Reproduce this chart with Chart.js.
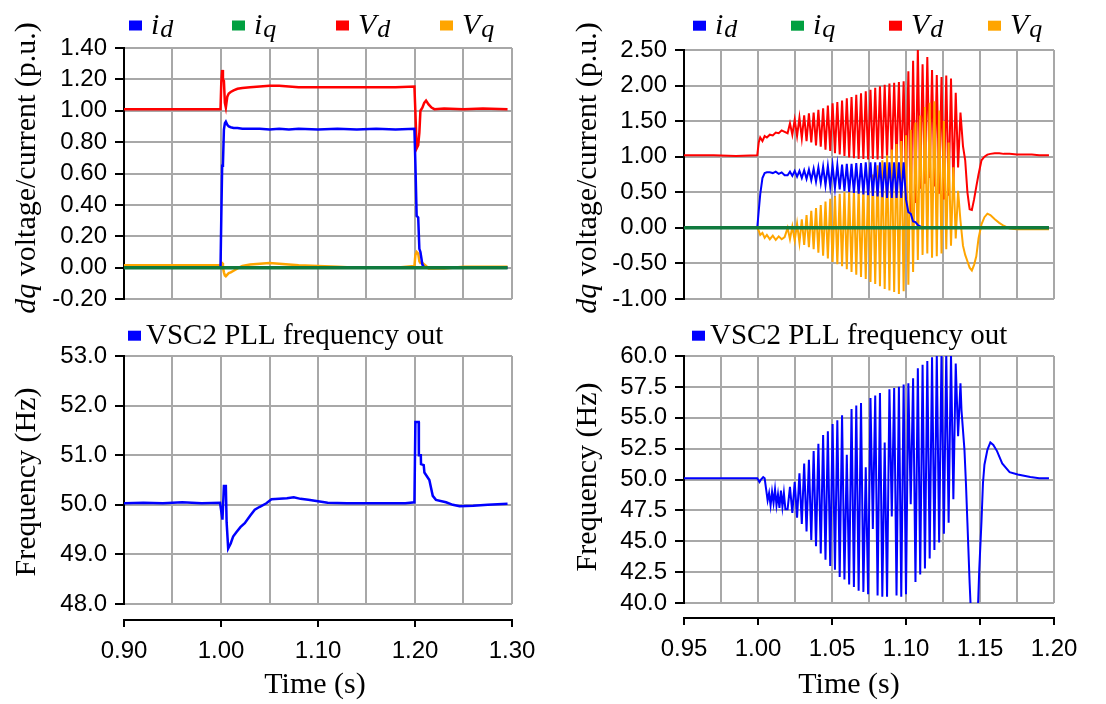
<!DOCTYPE html>
<html>
<head>
<meta charset="utf-8">
<script src="https://cdn.jsdelivr.net/npm/chart.js@4.4.1/dist/chart.umd.min.js"></script>
<style>
  html, body { margin: 0; padding: 0; background: #fff; }
  #wrap { position: relative; width: 1106px; height: 704px; overflow: hidden; background: #fff; }
  canvas { position: absolute; }
</style>
</head>
<body>
<div id="wrap">
  <canvas id="tl" width="550" height="330" style="left:0;top:0"></canvas>
  <canvas id="tr" width="546" height="330" style="left:560px;top:0"></canvas>
  <canvas id="bl" width="550" height="394" style="left:0;top:310px"></canvas>
  <canvas id="br" width="546" height="394" style="left:560px;top:310px"></canvas>
</div>
<script>
// ---- left column: 0.90 - 1.30 s ----
const tlTime = [0.900, 0.930, 0.960, 0.9995, 1.0003, 1.0012, 1.0020, 1.0030, 1.0040, 1.0050,
  1.0065, 1.0080, 1.0100, 1.0130, 1.0170, 1.0220, 1.0300, 1.0400, 1.0500, 1.0600,
  1.0700, 1.0800, 1.1000, 1.1200, 1.1400, 1.1600, 1.1800, 1.1994, 1.2004, 1.2017,
  1.2033, 1.2045, 1.2056, 1.2076, 1.2095, 1.2114, 1.2140, 1.2170, 1.2200, 1.2300,
  1.2500, 1.2700, 1.2954];
const tlId = [0, 0, 0, 0, 0.32, 0.65, 0.66, 0.88, 0.92, 0.93,
  0.91, 0.90, 0.895, 0.89, 0.89, 0.885, 0.885, 0.885, 0.88, 0.885,
  0.88, 0.885, 0.88, 0.885, 0.88, 0.885, 0.88, 0.885, 0.66, 0.33,
  0.32, 0.12, 0.10, 0.02, 0, 0, 0, 0, 0, 0,
  0, 0, 0];
const tlVd = [1.01, 1.01, 1.01, 1.01, 1.18, 1.26, 1.20, 1.19, 1.05, 1.02,
  1.09, 1.11, 1.12, 1.13, 1.14, 1.145, 1.15, 1.155, 1.16, 1.16,
  1.155, 1.15, 1.15, 1.15, 1.15, 1.15, 1.15, 1.155, 0.99, 0.76,
  0.78, 0.86, 1.00, 1.02, 1.05, 1.065, 1.04, 1.02, 1.01, 1.015,
  1.01, 1.015, 1.01];
const tlVq = [0.015, 0.015, 0.015, 0.015, 0.03, 0.03, 0.0, -0.03, -0.05, -0.055,
  -0.045, -0.035, -0.03, -0.02, -0.005, 0.01, 0.02, 0.025, 0.03, 0.025,
  0.02, 0.015, 0.01, 0.005, 0.0, 0.0, 0.0, 0.01, 0.08, 0.10,
  0.09, 0.04, 0.03, 0.03, 0.02, 0.01, -0.005, -0.005, -0.005, -0.005,
  0.005, 0.005, 0.005];
const tlIqTime = [0.900, 1.2954];
const tlIq = [0, 0];

const blTime = [0.900, 0.920, 0.940, 0.960, 0.980, 0.9990, 1.0015, 1.0030, 1.0050, 1.0058,
  1.0074, 1.0100, 1.0125, 1.0160, 1.0200, 1.0245, 1.0300, 1.0348, 1.0400, 1.0468,
  1.0520, 1.0600, 1.0680, 1.0750, 1.0820, 1.0900, 1.1000, 1.1100, 1.1300, 1.1500,
  1.1700, 1.1900, 1.1994, 1.2004, 1.2038, 1.2040, 1.2060, 1.2062, 1.2090, 1.2097,
  1.2148, 1.2183, 1.2216, 1.2320, 1.2390, 1.2460, 1.2600, 1.2750, 1.2954];
const blFreq = [50.03, 50.04, 50.03, 50.05, 50.03, 50.04, 49.70, 50.38, 50.38, 49.65,
  49.12, 49.22, 49.36, 49.45, 49.55, 49.63, 49.78, 49.90, 49.96, 50.03,
  50.11, 50.12, 50.13, 50.15, 50.12, 50.10, 50.07, 50.04, 50.03, 50.03,
  50.03, 50.03, 50.05, 51.67, 51.67, 51.00, 51.00, 50.82, 50.80, 50.65,
  50.50, 50.18, 50.10, 50.05, 50.00, 49.97, 49.98, 50.00, 50.02];

// ---- right column: 0.95 - 1.20 s ----
const oscTime = [1.0200, 1.0216, 1.0232, 1.0248, 1.0264, 1.0280, 1.0296, 1.0312, 1.0328, 1.0344,
  1.0360, 1.0376, 1.0392, 1.0408, 1.0424, 1.0440, 1.0456, 1.0472, 1.0488, 1.0504,
  1.0520, 1.0536, 1.0552, 1.0568, 1.0584, 1.0600, 1.0616, 1.0632, 1.0648, 1.0664,
  1.0680, 1.0696, 1.0712, 1.0728, 1.0744, 1.0760, 1.0776, 1.0792, 1.0808, 1.0824,
  1.0840, 1.0856, 1.0872, 1.0888, 1.0904, 1.0920, 1.0936, 1.0952, 1.0968, 1.0984,
  1.1000, 1.1016, 1.1032, 1.1048, 1.1064, 1.1080, 1.1096, 1.1112, 1.1128, 1.1144,
  1.1160, 1.1176, 1.1192, 1.1208, 1.1224, 1.1240, 1.1256, 1.1272, 1.1288, 1.1304,
  1.1320, 1.1336, 1.1352, 1.1368];

const trPreTime = [0.9500, 0.9700, 0.9850, 0.9995, 1.0005, 1.0015, 1.0030, 1.0045, 1.0060, 1.0080,
  1.0100, 1.0120, 1.0140, 1.0160, 1.0180];
const trPostTime = [1.1385, 1.1400, 1.1415, 1.1430, 1.1445, 1.1460, 1.1475, 1.1490, 1.1510, 1.1530,
  1.1550, 1.1570, 1.1600, 1.1630, 1.1660, 1.1700, 1.1750, 1.1800, 1.1850, 1.1900, 1.1966];

const idPre = [0, 0, 0, 0, 0.24, 0.47, 0.70, 0.77, 0.78, 0.78, 0.77, 0.79, 0.76, 0.78, 0.74];
const idOsc = [0.74, 0.79, 0.73, 0.80, 0.72, 0.80, 0.70, 0.81, 0.69, 0.82,
  0.67, 0.83, 0.65, 0.85, 0.63, 0.86, 0.60, 0.87, 0.58, 0.88,
  0.56, 0.88, 0.54, 0.89, 0.52, 0.90, 0.50, 0.90, 0.49, 0.91,
  0.48, 0.91, 0.47, 0.92, 0.46, 0.92, 0.45, 0.92, 0.44, 0.92,
  0.43, 0.92, 0.42, 0.92, 0.42, 0.92, 0.42, 0.92, 0.42, 0.92,
  0.40, 0.22, 0.20, 0.09, 0.08, 0.04, 0.02, 0, 0, 0,
  0, 0, 0, 0, 0, 0, 0, 0, 0, 0,
  0, 0, 0, 0];
const idPost = [0, 0, 0, 0, 0, 0, 0, 0, 0, 0, 0, 0, 0, 0, 0, 0, 0, 0, 0, 0, 0];

const vdPre = [1.02, 1.02, 1.01, 1.02, 1.20, 1.27, 1.22, 1.29, 1.27, 1.31, 1.30, 1.34, 1.33, 1.37, 1.35];
const vdOsc = [1.33, 1.47, 1.31, 1.52, 1.29, 1.55, 1.26, 1.58, 1.22, 1.61,
  1.20, 1.62, 1.16, 1.66, 1.14, 1.68, 1.10, 1.72, 1.08, 1.75,
  1.05, 1.77, 1.03, 1.79, 1.01, 1.82, 0.99, 1.84, 0.98, 1.87,
  0.97, 1.89, 0.97, 1.92, 0.96, 1.94, 0.97, 1.97, 0.96, 1.99,
  0.97, 2.01, 0.98, 2.03, 0.97, 2.04, 0.93, 2.05, 0.85, 2.06,
  0.62, 2.20, 0.22, 2.35, 0.35, 2.52, 0.55, 2.30, 0.62, 2.40,
  0.70, 2.22, 0.58, 2.15, 0.48, 2.12, 0.40, 2.14, 0.45, 2.10,
  0.60, 1.90, 0.85, 1.62];
const vdPost = [1.15, 0.95, 0.50, 0.26, 0.25, 0.40, 0.58, 0.75, 0.95, 1.00,
  1.03, 1.04, 1.05, 1.05, 1.04, 1.04, 1.03, 1.03, 1.03, 1.02, 1.02];

const vqPre = [0, 0, 0, 0, -0.04, -0.10, -0.07, -0.14, -0.10, -0.16, -0.11, -0.17, -0.12, -0.16, -0.13];
const vqOsc = [0.00, -0.16, 0.02, -0.18, 0.06, -0.21, 0.12, -0.24, 0.18, -0.27,
  0.24, -0.30, 0.28, -0.35, 0.32, -0.39, 0.37, -0.43, 0.41, -0.48,
  0.45, -0.51, 0.48, -0.54, 0.50, -0.58, 0.52, -0.62, 0.53, -0.66,
  0.56, -0.69, 0.58, -0.72, 0.65, -0.76, 0.75, -0.79, 0.88, -0.82,
  0.95, -0.86, 1.02, -0.88, 1.10, -0.90, 1.18, -0.93, 1.22, -0.89,
  1.30, -0.80, 1.38, -0.62, 1.48, -0.45, 1.58, -0.38, 1.70, -0.36,
  1.76, -0.42, 1.78, -0.40, 1.65, -0.36, 1.50, -0.30, 1.20, -0.25,
  0.85, -0.15, 0.52, 0.10];
const vqPost = [-0.25, -0.38, -0.47, -0.56, -0.60, -0.52, -0.40, -0.15, 0.05, 0.15,
  0.20, 0.18, 0.12, 0.07, 0.03, -0.01, -0.02, -0.02, -0.02, -0.02, -0.02];

const trIqTime = [0.950, 1.1966];
const trIq = [0, 0];

const brPreTime = [0.9500, 0.9700, 0.9900, 0.9995, 1.0010, 1.0020, 1.0035, 1.0045, 1.0055, 1.0065,
  1.0075, 1.0085, 1.0095, 1.0105, 1.0115, 1.0125, 1.0135, 1.0145, 1.0155, 1.0165,
  1.0175, 1.0185];
const brPreFreq = [50.1, 50.1, 50.1, 50.1, 49.8, 50.0, 50.2, 50.1, 49.2, 48.3,
  48.9, 47.9, 49.0, 48.1, 49.2, 47.9, 48.8, 47.7, 49.1, 47.8,
  48.9, 47.6];
const brOscFreq = [47.6, 49.4, 47.3, 49.8, 46.9, 50.5, 46.4, 51.3, 45.8, 51.6,
  45.1, 52.3, 44.6, 52.9, 44.0, 53.6, 43.5, 53.9, 43.0, 54.5,
  42.7, 54.8, 42.1, 55.2, 41.9, 52.0, 41.5, 55.7, 41.3, 56.0,
  41.0, 56.2, 40.9, 51.0, 40.7, 56.6, 46.0, 56.8, 40.6, 57.0,
  40.5, 53.0, 40.5, 57.3, 47.0, 57.4, 40.6, 57.5, 40.5, 57.7,
  40.7, 57.8, 48.0, 58.2, 41.7, 59.0, 42.3, 59.3, 42.8, 59.6,
  43.6, 59.9, 44.3, 60.1, 44.9, 60.3, 45.6, 60.3, 46.5, 60.2,
  48.4, 59.4, 53.5, 57.8];
const brPostTime = [1.1375, 1.1395, 1.1405, 1.1415, 1.1430, 1.1445, 1.1480, 1.1495, 1.1510, 1.1520,
  1.1530, 1.1550, 1.1570, 1.1590, 1.1615, 1.1650, 1.1700, 1.1755, 1.1840, 1.1900, 1.1966];
const brPostFreq = [55.6, 52.4, 49.7, 46.5, 41.6, 37.5, 37.5, 42.7, 46.6, 49.7,
  51.2, 52.4, 53.0, 52.8, 52.3, 51.3, 50.6, 50.4, 50.2, 50.1, 50.1];

const BLUE = '#0000ff';
const GREEN = '#107a3e';
const GREEN_KEY = '#00a040';
const RED = '#ff0000';
const ORANGE = '#ffa500';
const GRID = '#a8a8a8';

function pts(t, v) {
  return t.map((x, i) => ({ x: x, y: v[i] }));
}

function series(label, t, v, color, width, order) {
  return {
    label: label, data: pts(t, v), borderColor: color, backgroundColor: color,
    borderWidth: width, pointRadius: 0, tension: 0, fill: false, order: order
  };
}

function fmt(v, dec) {
  if (Math.abs(v) < 1e-9) v = 0;
  return v.toFixed(dec);
}

// legend boxes, rotated axis titles and x titles drawn as canvas text
const overlay = {
  id: 'overlay',
  afterDraw(chart, args, opts) {
    const ctx = chart.ctx;
    ctx.save();
    ctx.textBaseline = 'alphabetic';
    ctx.textAlign = 'left';
    (opts.keys || []).forEach(k => {
      ctx.fillStyle = k.color;
      ctx.fillRect(k.x, k.y - 5, 13, 10);
      ctx.fillStyle = '#000';
      if (k.sub) {
        ctx.font = 'italic 30px "Liberation Serif"';
        ctx.fillText(k.main, k.x + 22, k.y + 8);
        const w = ctx.measureText(k.main).width;
        ctx.font = 'italic 26px "Liberation Serif"';
        ctx.fillText(k.sub, k.x + 23 + w, k.y + 11);
      } else {
        ctx.font = '29px "Liberation Serif"';
        ctx.fillText(k.main, k.x + 18, k.y + 8);
      }
    });
    if (opts.ytitle) {
      const yt = opts.ytitle;
      ctx.translate(yt.x, yt.y);
      ctx.rotate(-Math.PI / 2);
      let total = 0;
      yt.parts.forEach(p => {
        ctx.font = p[0] + ' 30px "Liberation Serif"';
        total += ctx.measureText(p[1]).width;
      });
      let x = -total / 2;
      ctx.fillStyle = '#000';
      yt.parts.forEach(p => {
        ctx.font = p[0] + ' 30px "Liberation Serif"';
        ctx.fillText(p[1], x, 0);
        x += ctx.measureText(p[1]).width;
      });
      ctx.setTransform(1, 0, 0, 1, 0, 0);
    }
    if (opts.xtitle) {
      ctx.font = '30px "Liberation Serif"';
      ctx.textAlign = 'center';
      ctx.fillStyle = '#000';
      ctx.fillText(opts.xtitle.text, opts.xtitle.x, opts.xtitle.y);
    }
    ctx.restore();
  }
};

const tickFont = { family: '"Liberation Sans", Arial, sans-serif', size: 24 };

function makeChart(id, datasets, o) {
  const scales = {
    x: {
      type: 'linear', position: 'bottom', min: o.xmin, max: o.xmax, weight: 0,
      ticks: { display: false, stepSize: o.gridStep, autoSkip: false },
      grid: { color: GRID, lineWidth: 2, drawTicks: false },
      border: { display: false },
      afterFit: s => { s.height = o.gap; }
    },
    y: {
      type: 'linear', min: o.ymin, max: o.ymax,
      ticks: { stepSize: o.ystep, color: '#000', padding: 8, font: tickFont, autoSkip: false,
        callback: v => fmt(v, o.ydec) },
      grid: { color: GRID, lineWidth: 2, tickColor: '#000', tickLength: 9 },
      border: { color: '#000', width: 2 },
      afterFit: s => { s.width = 124; }
    }
  };
  if (o.labelStep) {
    scales.x2 = {
      type: 'linear', position: 'bottom', axis: 'x', min: o.xmin, max: o.xmax, weight: 1,
      ticks: { stepSize: o.labelStep, color: '#000', padding: 10, font: tickFont,
        maxRotation: 0, autoSkip: false, callback: v => fmt(v, 2) },
      grid: { drawOnChartArea: false, tickColor: '#000', tickLength: 7, lineWidth: 2 },
      border: { color: '#000', width: 2 },
      afterFit: s => { s.height = o.axisH; }
    };
  }
  return new Chart(document.getElementById(id), {
    type: 'line',
    data: { datasets: datasets },
    options: {
      responsive: false,
      animation: false,
      events: [],
      layout: { padding: o.pad },
      plugins: { legend: { display: false }, tooltip: { enabled: false }, overlay: o.overlay },
      scales: scales
    },
    plugins: [overlay]
  });
}

const trTime = [...trPreTime, ...oscTime, ...trPostTime];
const brTime = [...brPreTime, ...oscTime, ...brPostTime];

makeChart('tl', [
  series('iq', tlIqTime, tlIq, GREEN, 3.5, 0),
  series('id', tlTime, tlId, BLUE, 2.5, 1),
  series('Vq', tlTime, tlVq, ORANGE, 2.5, 2),
  series('Vd', tlTime, tlVd, RED, 2.5, 3)
], {
  xmin: 0.9, xmax: 1.3, gridStep: 0.05, gap: 0,
  ymin: -0.2, ymax: 1.4, ystep: 0.2, ydec: 2,
  pad: { top: 48, right: 38, bottom: 31, left: 0 },
  overlay: {
    keys: [
      { x: 129, y: 25.5, color: BLUE, main: 'i', sub: 'd' },
      { x: 232, y: 25.5, color: GREEN_KEY, main: 'i', sub: 'q' },
      { x: 336, y: 25.5, color: RED, main: 'V', sub: 'd' },
      { x: 440, y: 25.5, color: ORANGE, main: 'V', sub: 'q' }
    ],
    ytitle: { x: 35, y: 168, parts: [['italic', 'dq'], ['normal', ' voltage/current (p.u.)']] }
  }
});

makeChart('tr', [
  series('iq', trIqTime, trIq, GREEN, 3.5, 0),
  series('id', trTime, [...idPre, ...idOsc, ...idPost], BLUE, 2, 1),
  series('Vq', trTime, [...vqPre, ...vqOsc, ...vqPost], ORANGE, 2, 2),
  series('Vd', trTime, [...vdPre, ...vdOsc, ...vdPost], RED, 2, 3)
], {
  xmin: 0.95, xmax: 1.2, gridStep: 0.025, gap: 0,
  ymin: -1, ymax: 2.5, ystep: 0.5, ydec: 2,
  pad: { top: 50, right: 52, bottom: 31, left: 0 },
  overlay: {
    keys: [
      { x: 133, y: 25.7, color: BLUE, main: 'i', sub: 'd' },
      { x: 231, y: 25.7, color: GREEN_KEY, main: 'i', sub: 'q' },
      { x: 329, y: 25.7, color: RED, main: 'V', sub: 'd' },
      { x: 428, y: 25.7, color: ORANGE, main: 'V', sub: 'q' }
    ],
    ytitle: { x: 36, y: 168, parts: [['italic', 'dq'], ['normal', ' voltage/current (p.u.)']] }
  }
});

makeChart('bl', [
  series('VSC2 PLL frequency out', blTime, blFreq, BLUE, 2.5, 0)
], {
  xmin: 0.9, xmax: 1.3, gridStep: 0.05, labelStep: 0.1, gap: 16, axisH: 84,
  ymin: 48, ymax: 53, ystep: 1, ydec: 1,
  pad: { top: 46, right: 38, bottom: 0, left: 0 },
  overlay: {
    keys: [{ x: 128, y: 25.7, color: BLUE, main: 'VSC2 PLL frequency out' }],
    ytitle: { x: 35, y: 172, parts: [['normal', 'Frequency (Hz)']] },
    xtitle: { x: 315, y: 383, text: 'Time (s)' }
  }
});

makeChart('br', [
  series('VSC2 PLL frequency out', brTime, [...brPreFreq, ...brOscFreq, ...brPostFreq], BLUE, 2, 0)
], {
  xmin: 0.95, xmax: 1.2, gridStep: 0.025, labelStep: 0.05, gap: 15, axisH: 86,
  ymin: 40, ymax: 60, ystep: 2.5, ydec: 1,
  pad: { top: 46, right: 52, bottom: 0, left: 0 },
  overlay: {
    keys: [{ x: 132, y: 25.7, color: BLUE, main: 'VSC2 PLL frequency out' }],
    ytitle: { x: 36, y: 167, parts: [['normal', 'Frequency (Hz)']] },
    xtitle: { x: 289, y: 383, text: 'Time (s)' }
  }
});
</script>
</body>
</html>
